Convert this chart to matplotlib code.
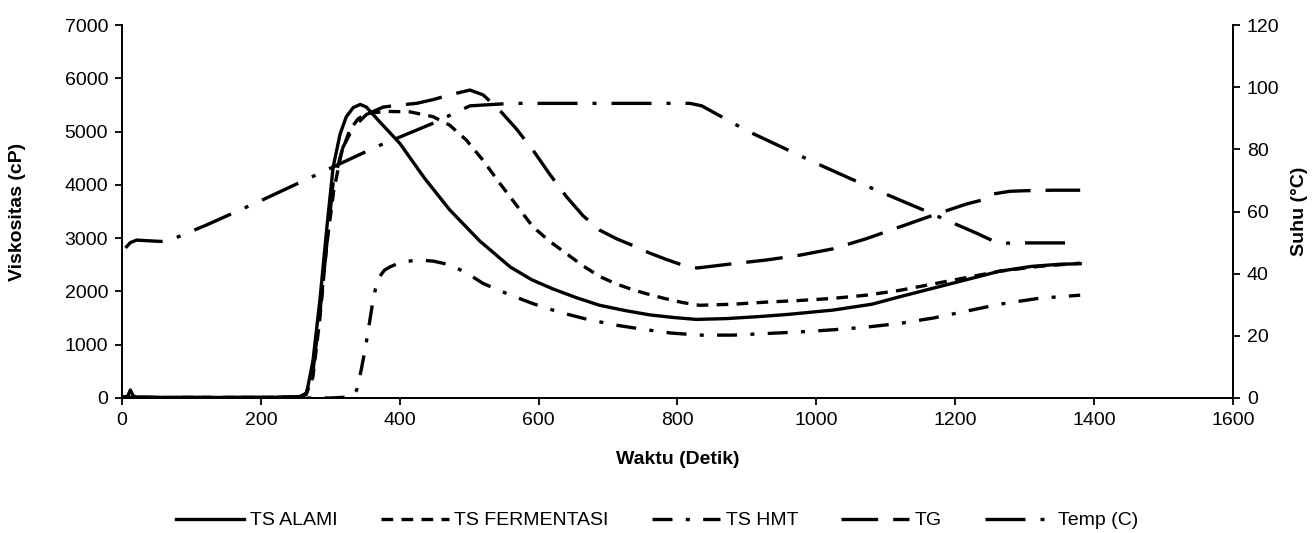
import numpy as np
import matplotlib.pyplot as plt

plt.rcParams['font.family'] = ['Liberation Sans', 'DejaVu Sans']

# viscosity curves (x in s, y in cP)
x_alami = [0, 8, 12, 16, 20, 60, 150, 240, 258, 266, 275, 285, 295, 304, 314, 323, 333, 343, 352, 370, 400, 436, 472, 515, 559, 590, 620, 655, 688, 725, 760, 795, 827, 870, 920, 960, 1024, 1080, 1120, 1168, 1216, 1264, 1310, 1350, 1380]
y_alami = [20, 30, 150, 40, 20, 10, 10, 15, 30, 100, 700, 1840, 3200, 4330, 4950, 5280, 5450, 5510, 5460, 5200, 4780, 4120, 3530, 2950, 2460, 2220, 2050, 1880, 1740, 1640, 1560, 1510, 1475, 1490, 1530, 1570, 1650, 1760, 1900, 2060, 2220, 2380, 2470, 2510, 2520]

x_ferm = [0, 100, 200, 255, 265, 275, 285, 295, 305, 316, 328, 340, 352, 380, 415, 448, 472, 496, 520, 544, 568, 592, 616, 640, 664, 688, 712, 736, 760, 784, 808, 832, 880, 928, 976, 1024, 1072, 1120, 1168, 1216, 1264, 1320, 1380]
y_ferm = [10, 10, 10, 20, 60, 400, 1500, 2900, 3900, 4600, 5030, 5240, 5340, 5380, 5370, 5280, 5120, 4840, 4460, 4030, 3620, 3210, 2940, 2710, 2480, 2280, 2140, 2030, 1940, 1860, 1790, 1740, 1760, 1800, 1830, 1870, 1930, 2020, 2140, 2260, 2380, 2470, 2530]

x_hmt = [0, 100, 200, 300, 330, 338, 344, 350, 355, 360, 365, 371, 378, 386, 400, 424, 448, 472, 496, 520, 556, 592, 630, 669, 710, 750, 790, 832, 880, 928, 976, 1024, 1072, 1120, 1168, 1216, 1264, 1320, 1380]
y_hmt = [0, 0, 0, 0, 20, 150, 500, 900, 1300, 1710, 2050, 2280, 2400, 2460, 2540, 2590, 2570, 2500, 2350, 2150, 1950, 1770, 1610, 1480, 1370, 1290, 1220, 1180, 1180, 1210, 1240, 1280, 1330, 1400, 1500, 1630, 1760, 1870, 1930]

x_tg = [0, 100, 200, 255, 265, 275, 285, 295, 304, 318, 333, 352, 376, 400, 424, 448, 472, 501, 520, 544, 568, 592, 616, 640, 664, 688, 712, 736, 760, 784, 806, 828, 880, 928, 976, 1024, 1072, 1120, 1168, 1216, 1240, 1255, 1279, 1300, 1340, 1380]
y_tg = [10, 10, 10, 20, 80, 500, 1600, 2900, 4030, 4700, 5080, 5320, 5460, 5500, 5530, 5600, 5690, 5780, 5690, 5400, 5050, 4650, 4200, 3780, 3420, 3150, 2990, 2860, 2720, 2600, 2500, 2440, 2520, 2590, 2680, 2800, 2990, 3210, 3430, 3640, 3720, 3830, 3880, 3890, 3900, 3900]

# temperature (°C)
x_temp = [5, 12, 21, 45, 64, 120, 200, 295, 367, 448, 501, 560, 650, 750, 818, 835, 900, 1000, 1080, 1154, 1200, 1231, 1255, 1270, 1300, 1370]
y_temp = [48.3, 50.0, 50.8, 50.5, 50.3, 55.5, 63.5, 73.4, 80.9, 88.4, 94.0, 94.8, 94.8, 94.8, 94.8, 94.0, 86.0, 75.5, 67.5, 60.5, 56.0, 53.0, 50.5, 49.8, 49.9, 49.9]

fig = plt.figure(figsize=(13.15, 5.33), dpi=100)
ax = fig.add_axes([0.0928, 0.2533, 0.8448, 0.6997])
ax2 = ax.twinx()

lw = 2.4
l1, = ax.plot(x_alami, y_alami, color='black', lw=lw, label='TS ALAMI')
l2, = ax.plot(x_ferm, y_ferm, color='black', lw=lw, dashes=(3.5, 2.5), label='TS FERMENTASI')
l3, = ax.plot(x_hmt, y_hmt, color='black', lw=lw, dashes=(6, 4, 1.2, 4), label='TS HMT')
l4, = ax.plot(x_tg, y_tg, color='black', lw=lw, dashes=(11, 4.5), label='TG')
l5, = ax2.plot(x_temp, y_temp, color='black', lw=lw, dashes=(12, 4.5, 1.2, 4.5), label='Temp (C)')

ax.set_xlim(0, 1600)
ax.set_ylim(0, 7000)
ax2.set_ylim(0, 120)
ax.set_xticks(np.arange(0, 1601, 200))
ax.set_yticks(np.arange(0, 7001, 1000))
ax2.set_yticks(np.arange(0, 121, 20))

for a in (ax, ax2):
    a.spines['top'].set_visible(False)
    for s in a.spines.values():
        s.set_linewidth(1.3)
    a.tick_params(labelsize=14, length=5, width=1.3, direction='out', pad=5)

ax.set_xlabel('Waktu (Detik)', fontsize=14, fontweight='bold', labelpad=16)
ax.set_ylabel('Viskositas (cP)', fontsize=14, fontweight='bold', labelpad=28)
ax2.set_ylabel('Suhu (°C)', fontsize=14, fontweight='bold', labelpad=8)

fig.legend(handles=[l1, l2, l3, l4, l5], loc='lower center', bbox_to_anchor=(0.5, -0.026),
           ncol=5, frameon=False, fontsize=14, handlelength=3.5, handletextpad=0.3,
           columnspacing=2.2)

fig.savefig('out.png', dpi=100)
